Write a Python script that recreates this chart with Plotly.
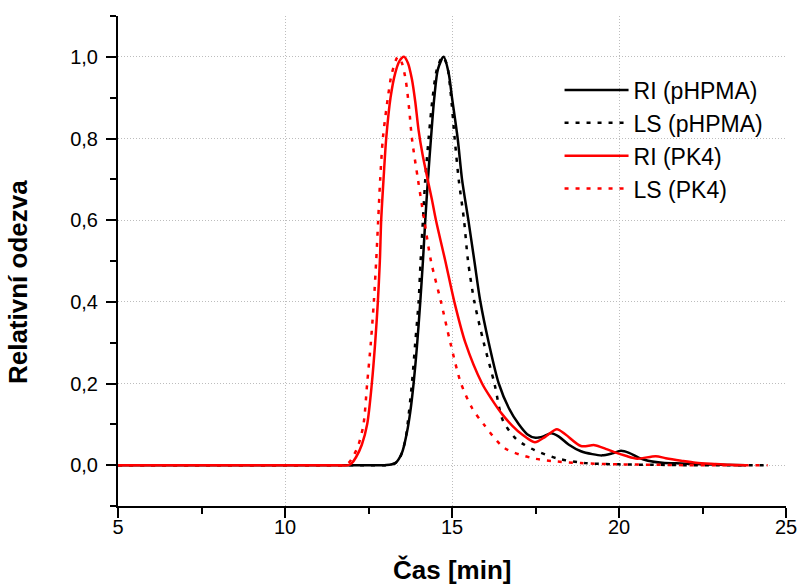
import plotly.graph_objects as go

# ---- data ----
ri_phpma_x = [5, 8, 11, 12.5, 13.0, 13.3, 13.5, 13.65, 13.75, 13.85, 13.95, 14.05, 14.13, 14.2, 14.28, 14.37, 14.47,
              14.58, 14.75, 14.9, 15.0, 15.17, 15.3, 15.49, 15.67, 15.85, 16.1, 16.4, 16.7, 17.0, 17.25, 17.5, 17.75,
              17.97, 18.2, 18.5, 18.86, 19.2, 19.5, 19.8, 20.06, 20.3, 20.6, 20.87, 21.3, 21.86, 22.5, 23.0, 23.8]
ri_phpma_y = [0, 0, 0, 0, 0.0, 0.005, 0.03, 0.08, 0.13, 0.2, 0.29, 0.4, 0.5, 0.6, 0.7, 0.8, 0.9,
              0.97, 1.0, 0.96, 0.9, 0.8, 0.7, 0.6, 0.5, 0.4, 0.3, 0.2, 0.14, 0.1, 0.076, 0.067, 0.071,
              0.078, 0.07, 0.05, 0.034, 0.027, 0.024, 0.029, 0.035, 0.03, 0.018, 0.011, 0.006, 0.004, 0.002, 0.001, 0.0]

ls_phpma_x = [5, 8, 11, 12.5, 13.0, 13.3, 13.45, 13.6, 13.67, 13.8, 13.9, 14.0, 14.06, 14.13, 14.2, 14.3, 14.42,
              14.55, 14.72, 14.85, 14.95, 15.08, 15.2, 15.36, 15.48, 15.67, 15.95, 16.27, 16.52, 16.92, 17.17,
              17.47, 18.17, 19.0, 20.0, 21.0, 22.0, 23.0, 24.45]
ls_phpma_y = [0, 0, 0, 0, 0.0, 0.005, 0.02, 0.06, 0.1, 0.2, 0.3, 0.4, 0.5, 0.6, 0.7, 0.8, 0.9,
              0.97, 1.0, 0.98, 0.92, 0.8, 0.7, 0.6, 0.5, 0.4, 0.3, 0.2, 0.11, 0.064, 0.05,
              0.037, 0.016, 0.005, 0.002, 0.001, 0.0, 0.0, 0.0]

ri_pk4_x = [5, 8, 10, 11.5, 11.9, 12.0, 12.13, 12.3, 12.46, 12.6, 12.7, 12.78, 12.84, 12.88, 12.95, 13.03, 13.16,
            13.3, 13.43, 13.56, 13.68, 13.8, 13.9, 14.0, 14.12, 14.27, 14.4, 14.52, 14.8, 15.07, 15.4, 15.9, 16.2,
            16.5, 16.8, 17.1, 17.48, 17.8, 18.14, 18.4, 18.86, 19.27, 19.6, 19.86, 20.2, 20.55, 21.1, 21.4, 21.86,
            22.3, 22.85, 23.3, 23.8]
ri_pk4_y = [0, 0, 0, 0, 0.0, 0.005, 0.02, 0.05, 0.1, 0.2, 0.3, 0.4, 0.5, 0.6, 0.7, 0.8, 0.9,
            0.96, 0.99, 1.0, 0.985, 0.945, 0.89, 0.82, 0.76, 0.7, 0.65, 0.6, 0.5, 0.4, 0.3, 0.2, 0.16,
            0.125, 0.097, 0.075, 0.056, 0.07, 0.088, 0.075, 0.047, 0.049, 0.04, 0.032, 0.023, 0.016, 0.022, 0.017, 0.011,
            0.006, 0.003, 0.001, 0.0]

ls_pk4_x = [5, 8, 10, 11.4, 11.75, 11.9, 12.03, 12.2, 12.35, 12.46, 12.57, 12.66, 12.73, 12.79, 12.85, 12.93,
            13.08, 13.2, 13.38, 13.5, 13.62, 13.72, 13.8, 13.98, 14.17, 14.37, 14.67, 14.95, 15.27, 15.6,
            15.95, 16.57, 17.37, 18.0, 18.86, 20.0, 21.0, 22.0, 23.0, 24.45]
ls_pk4_y = [0, 0, 0, 0, 0.0, 0.005, 0.02, 0.05, 0.1, 0.2, 0.3, 0.4, 0.5, 0.6, 0.7, 0.8,
            0.9, 0.96, 1.0, 0.985, 0.94, 0.87, 0.8, 0.7, 0.6, 0.5, 0.4, 0.3, 0.2, 0.14,
            0.1, 0.042, 0.018, 0.01, 0.005, 0.002, 0.001, 0.0, 0.0, 0.0]

series_names = ["RI (pHPMA)", "LS (pHPMA)", "RI (PK4)", "LS (PK4)"]

x_tickvals = [5, 10, 15, 20, 25]
x_ticktext = ["5", "10", "15", "20", "25"]
y_tickvals = [0.0, 0.2, 0.4, 0.6, 0.8, 1.0]
y_ticktext = ["0,0", "0,2", "0,4", "0,6", "0,8", "1,0"]

x_title = "Čas [min]"
y_title = "Relativní odezva"

# ---- figure ----
FONT = "Arial, Liberation Sans, sans-serif"
DOT = "4px,7px"

fig = go.Figure()
styles = [
    (ri_phpma_x, ri_phpma_y, "#000000", "solid"),
    (ls_phpma_x, ls_phpma_y, "#000000", DOT),
    (ri_pk4_x, ri_pk4_y, "#ff0000", "solid"),
    (ls_pk4_x, ls_pk4_y, "#ff0000", DOT),
]
for name, (xs, ys, col, dash) in zip(series_names, styles):
    fig.add_trace(go.Scatter(
        x=xs, y=ys, name=name, mode="lines",
        line=dict(color=col, width=2.5, dash=dash, shape="spline", smoothing=0.8),
    ))

axis_common = dict(
    showline=True, linecolor="black", linewidth=2, mirror=False,
    ticks="outside", ticklen=10, tickwidth=2, tickcolor="black",
    showgrid=True, gridcolor="#bdbdbd", gridwidth=1, griddash="1px,2px",
    zeroline=False, automargin=False,
    tickfont=dict(family=FONT, size=20, color="black"),
)

fig.update_xaxes(
    range=[5, 25], tickmode="array", tickvals=x_tickvals, ticktext=x_ticktext,
    ticklabelstandoff=-8,
    minor=dict(ticks="outside", ticklen=6, tickwidth=2, tickcolor="black", dtick=2.5, tick0=5, showgrid=False),
    **axis_common,
)
fig.update_yaxes(
    range=[-0.1, 1.1], tickmode="array", tickvals=y_tickvals, ticktext=y_ticktext,
    ticklabelstandoff=4,
    minor=dict(ticks="outside", ticklen=6, tickwidth=2, tickcolor="black", dtick=0.1, tick0=0, showgrid=False),
    **axis_common,
)

fig.add_annotation(text=f"<b>{x_title}</b>", xref="paper", yref="paper", x=0.5, y=-0.13,
                   showarrow=False, font=dict(family=FONT, size=26, color="black"),
                   xanchor="center", yanchor="middle")
fig.add_annotation(text=f"<b>{y_title}</b>", xref="paper", yref="paper", x=-0.1497, y=0.457,
                   showarrow=False, textangle=-90, font=dict(family=FONT, size=26, color="black"),
                   xanchor="center", yanchor="middle")

fig.update_layout(
    width=798, height=588,
    margin=dict(l=118, r=12, t=16, b=82),
    paper_bgcolor="white", plot_bgcolor="white",
    showlegend=True,
    legend=dict(x=0.661, y=0.893, xanchor="left", yanchor="top",
                bgcolor="rgba(0,0,0,0)", borderwidth=0,
                font=dict(family=FONT, size=23, color="black"),
                itemwidth=64, tracegroupgap=0),
)

fig.write_html("out.html", config={"displayModeBar": False},
               post_script="document.body.style.margin='0';")
